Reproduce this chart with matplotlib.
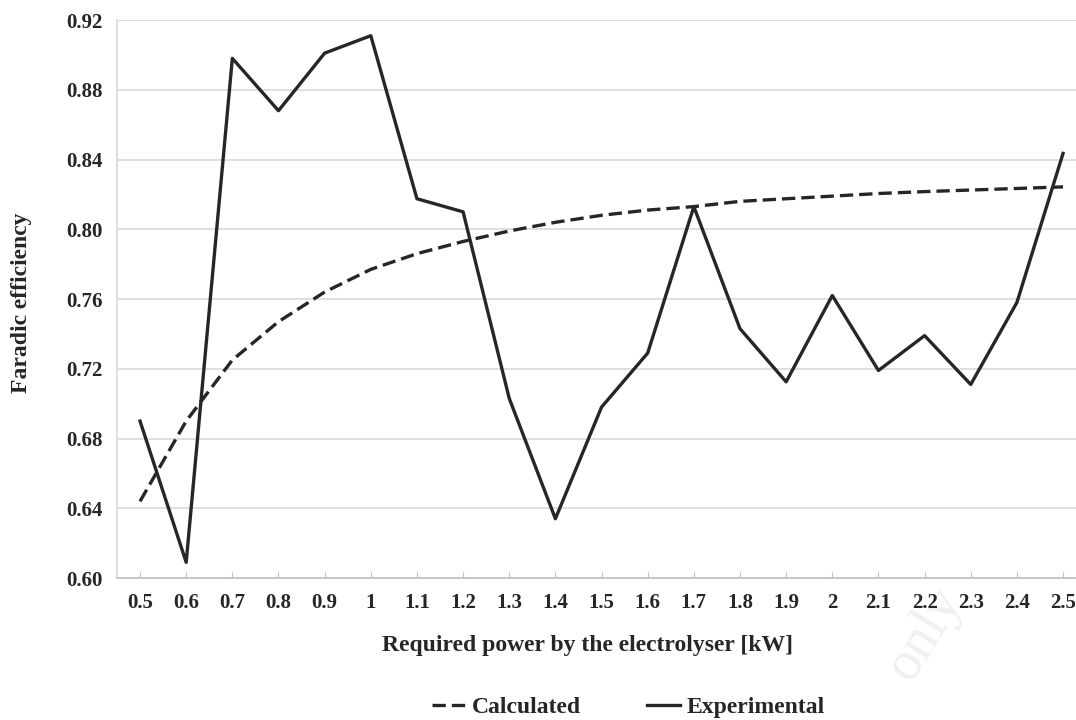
import matplotlib.pyplot as plt

# power steps on the category axis
power = ['0.5', '0.6', '0.7', '0.8', '0.9', '1', '1.1', '1.2', '1.3', '1.4', '1.5',
         '1.6', '1.7', '1.8', '1.9', '2', '2.1', '2.2', '2.3', '2.4', '2.5']

calculated = [0.644, 0.690, 0.725, 0.747, 0.764, 0.777, 0.786, 0.793, 0.799, 0.804, 0.808,
              0.811, 0.813, 0.816, 0.8175, 0.819, 0.8205, 0.8216, 0.8225, 0.8234, 0.8243]

experimental = [0.690, 0.609, 0.898, 0.868, 0.901, 0.911, 0.8175, 0.810, 0.703, 0.634, 0.698,
                0.729, 0.813, 0.743, 0.7125, 0.762, 0.719, 0.739, 0.711, 0.758, 0.8435]

yticks = [0.60, 0.64, 0.68, 0.72, 0.76, 0.80, 0.84, 0.88, 0.92]

plt.rcParams['font.family'] = ['Liberation Serif', 'DejaVu Serif']
plt.rcParams['font.weight'] = 'bold'

fig = plt.figure(figsize=(10.76, 7.2), dpi=100)
ax = fig.add_axes([0.1087, 0.1972, 0.9007, 0.775])
ax.set_facecolor('none')

x = list(range(len(power)))
ink = '#262626'
ax.plot(x, calculated, color=ink, lw=2.4, ls=(0, (4, 1.8)), label='Calculated')
ax.plot(x, experimental, color=ink, lw=2.4, label='Experimental')

ax.set_xlim(-0.5, len(power) - 0.5)
ax.set_ylim(0.60, 0.92)
ax.set_yticks(yticks)
ax.set_yticklabels(['%.2f' % v for v in yticks])
ax.set_xticks(x)
ax.set_xticklabels(power)

ax.grid(axis='y', color='#d9d9d9', lw=1.2)
ax.set_axisbelow(True)
for s in ['top', 'right']:
    ax.spines[s].set_visible(False)
ax.spines['left'].set_color('#d9d9d9')
ax.spines['bottom'].set_color('#bfbfbf')
ax.spines['left'].set_linewidth(1.2)
ax.spines['bottom'].set_linewidth(1.2)
ax.tick_params(axis='y', length=0, pad=10, labelsize=15, colors='#262626')
ax.tick_params(axis='x', direction='in', length=4, color='#bfbfbf', pad=11,
               labelsize=15, colors='#262626')

ax.set_xlabel('Required power by the electrolyser [kW]', fontsize=17, fontweight='bold',
              color='#262626')
ax.xaxis.set_label_coords(0.486, -0.102)
fig.text(0.0204, 0.579, 'Faradic efficiency', rotation=90, ha='center', va='center',
         fontsize=17, fontweight='bold', color='#262626')

fig.legend(loc='center', bbox_to_anchor=(0.584, 0.018), ncol=2, frameon=False,
           fontsize=17, handlelength=1.4, handletextpad=0.3, columnspacing=2.8,
           labelcolor='#262626')

# faint watermark in the lower right
fig.text(0.86, 0.12, 'only', rotation=58, fontsize=40, color='#f0f0f0',
         ha='center', va='center', fontweight='normal', zorder=-1)

fig.savefig('out.png', dpi=100)
